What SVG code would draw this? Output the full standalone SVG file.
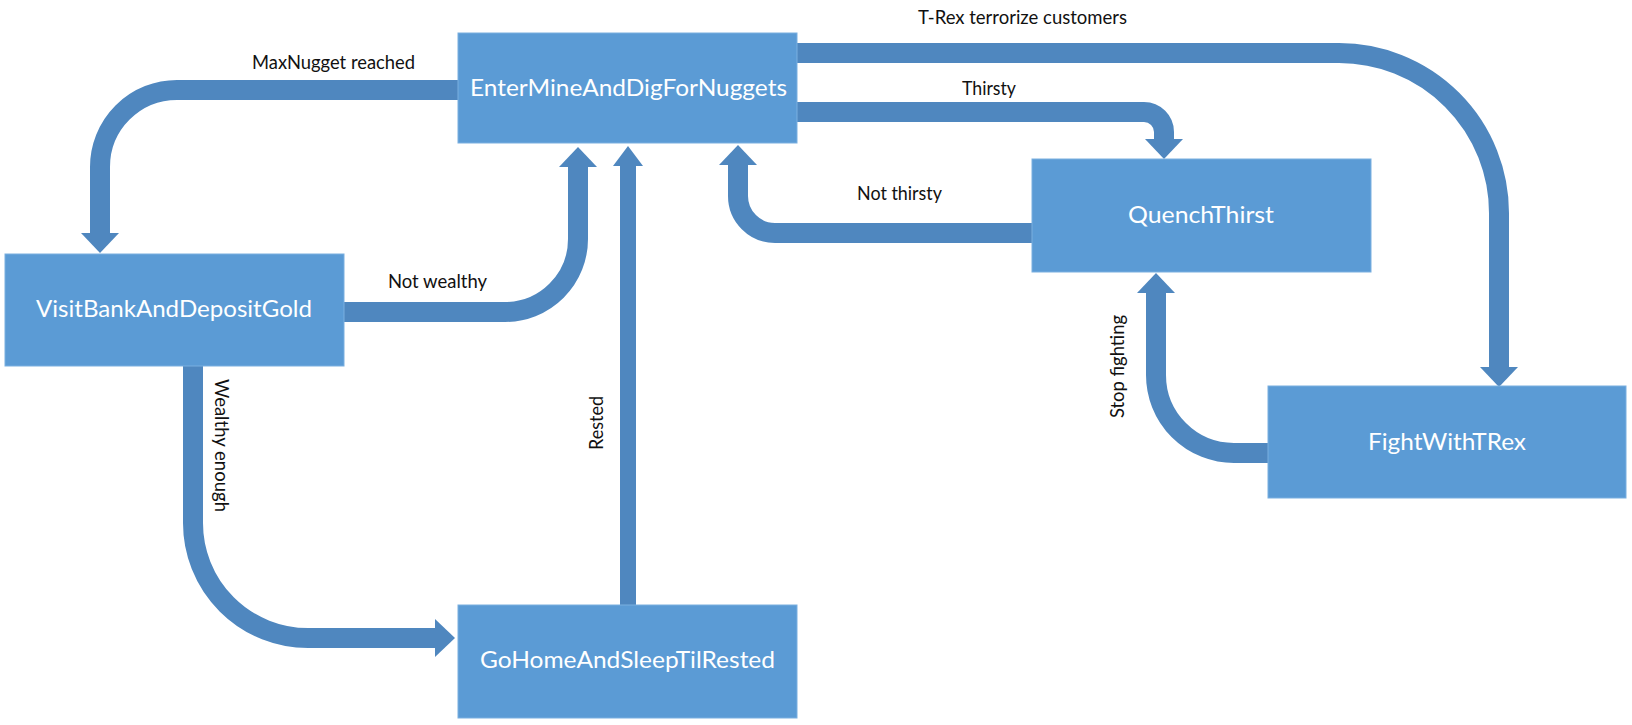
<svg xmlns="http://www.w3.org/2000/svg" width="1632" height="725" viewBox="0 0 1632 725">
<style>
.node{fill:#5B9BD5;stroke:#7AAFE0;stroke-width:1}
.ntext{font-family:Lato,"Open Sans","Liberation Sans",sans-serif;font-size:22.5px;fill:#FFFFFF;text-anchor:middle}
.lbl{font-family:Lato,"Open Sans","Liberation Sans",sans-serif;font-size:18.5px;fill:#111111}
.conn{fill:none;stroke:#4F87BF;stroke-width:20;stroke-linecap:butt}
.thin{stroke-width:16}
</style>
<defs>
<marker id="ah" markerUnits="userSpaceOnUse" markerWidth="20" markerHeight="38" viewBox="0 -19 20 38" refX="0" refY="0" orient="auto">
<path d="M0,-19 L20,0 L0,19 Z" fill="#4F87BF"/>
</marker>
<marker id="ahs" markerUnits="userSpaceOnUse" markerWidth="20" markerHeight="30" viewBox="0 -15 20 30" refX="0" refY="0" orient="auto">
<path d="M0,-15 L20,0 L0,15 Z" fill="#4F87BF"/>
</marker>
</defs>
<rect width="1632" height="725" fill="#FFFFFF"/>
<g id="connectors">
<path class="conn" d="M458,90 H177 A77,77 0 0 0 100,167 V233" marker-end="url(#ah)"/>
<path class="conn" d="M344,312 H505 A73,73 0 0 0 578,239 V167" marker-end="url(#ah)"/>
<path class="conn thin" d="M628,605 V166" marker-end="url(#ahs)"/>
<path class="conn" d="M193,366 V523 A115,115 0 0 0 308,638 H435" marker-end="url(#ah)"/>
<path class="conn" d="M797,53 H1339 A160,160 0 0 1 1499,213 V367" marker-end="url(#ah)"/>
<path class="conn" d="M797,112 H1144 A20,20 0 0 1 1164,132 V139" marker-end="url(#ah)"/>
<path class="conn" d="M1032,233 H775 A37,37 0 0 1 738,196 V165" marker-end="url(#ah)"/>
<path class="conn" d="M1268,453 H1234 A78,78 0 0 1 1156,375 V293" marker-end="url(#ah)"/>
<text class="lbl" x="252" y="69" textLength="163" lengthAdjust="spacingAndGlyphs">MaxNugget reached</text>
<text class="lbl" x="388" y="288" textLength="99" lengthAdjust="spacingAndGlyphs">Not wealthy</text>
<text class="lbl" x="918" y="24" textLength="209" lengthAdjust="spacingAndGlyphs">T-Rex terrorize customers</text>
<text class="lbl" x="962" y="95" textLength="54" lengthAdjust="spacingAndGlyphs">Thirsty</text>
<text class="lbl" x="857" y="200" textLength="85" lengthAdjust="spacingAndGlyphs">Not thirsty</text>
<text class="lbl" transform="translate(1124,366.5) rotate(-90)" x="-51.5" y="0" textLength="103" lengthAdjust="spacingAndGlyphs">Stop fighting</text>
<text class="lbl" transform="translate(603,423) rotate(-90)" x="-27" y="0" textLength="54" lengthAdjust="spacingAndGlyphs">Rested</text>
<text class="lbl" transform="translate(215,445.5) rotate(90)" x="-66.5" y="0" textLength="133" lengthAdjust="spacingAndGlyphs">Wealthy enough</text>
</g>
<g id="EnterMineAndDigForNuggets">
<rect class="node" x="458" y="33" width="339" height="110"/>
<text class="ntext" x="628.5" y="96" textLength="317" lengthAdjust="spacingAndGlyphs">EnterMineAndDigForNuggets</text>
</g>
<g id="VisitBankAndDepositGold">
<rect class="node" x="5" y="254" width="339" height="112"/>
<text class="ntext" x="174" y="317" textLength="276" lengthAdjust="spacingAndGlyphs">VisitBankAndDepositGold</text>
</g>
<g id="QuenchThirst">
<rect class="node" x="1032" y="159" width="339" height="113"/>
<text class="ntext" x="1201" y="223" textLength="146" lengthAdjust="spacingAndGlyphs">QuenchThirst</text>
</g>
<g id="FightWithTRex">
<rect class="node" x="1268" y="386" width="358" height="112"/>
<text class="ntext" x="1447" y="450" textLength="158" lengthAdjust="spacingAndGlyphs">FightWithTRex</text>
</g>
<g id="GoHomeAndSleepTilRested">
<rect class="node" x="458" y="605" width="339" height="113"/>
<text class="ntext" x="627.5" y="668" textLength="295" lengthAdjust="spacingAndGlyphs">GoHomeAndSleepTilRested</text>
</g>
</svg>
